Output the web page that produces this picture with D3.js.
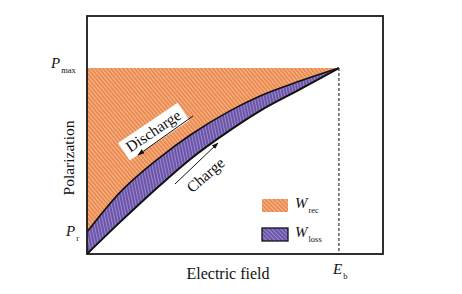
<!DOCTYPE html>
<html>
<head>
<meta charset="utf-8">
<script src="https://cdn.jsdelivr.net/npm/d3@7"></script>
<style>
  body { margin: 0; background: #fff; }
  text { font-family: "Liberation Serif", "DejaVu Serif", serif; fill: #111; }
</style>
</head>
<body>
<div id="chart"></div>
<script>
/* DATA (normalised: E / Eb, P / Pmax) */
const fieldE     = [0, 0.13, 0.29, 0.41, 0.567, 0.687, 0.845, 1];
const chargeP    = [0, 0.17, 0.37, 0.51, 0.665, 0.77, 0.885, 1];
const dischargeP = [0.118, 0.33, 0.52, 0.64, 0.77, 0.85, 0.93, 1];
const pMax = 1, pR = 0.118, eB = 1;
const legendItems = [
  { key: "rec", pattern: "hatchOrangeL", stroke: "none" },
  { key: "loss", pattern: "hatchPurpleL", stroke: "#111" }
];

/* LAYOUT */
const width = 462, height = 294,
  margin = { top: 16, right: 79, bottom: 40, left: 87 };

const svg = d3.select("#chart").append("svg")
  .attr("width", width).attr("height", height);

const xScale = d3.scaleLinear().domain([0, 1.175]).range([margin.left, width - margin.right]);
const yScale = d3.scaleLinear().domain([0, 1.28]).range([height - margin.bottom, margin.top]);

const charge = fieldE.map((e, i) => ({ e, p: chargeP[i] }));
const discharge = fieldE.map((e, i) => ({ e, p: dischargeP[i], c: chargeP[i] }));

// hatch patterns
const defs = svg.append("defs");
function hatch(id, bg, fg, angle, gap) {
  const p = defs.append("pattern").attr("id", id)
    .attr("patternUnits", "userSpaceOnUse")
    .attr("width", gap).attr("height", gap)
    .attr("patternTransform", `rotate(${angle})`);
  p.append("rect").attr("width", gap).attr("height", gap).attr("fill", bg);
  p.append("line").attr("x1", 0.5).attr("x2", 0.5).attr("y1", 0).attr("y2", gap)
    .attr("stroke", fg).attr("stroke-width", 0.8);
}
hatch("hatchOrange", "#ec8a50", "#f6c6a4", -40, 3);
hatch("hatchPurple", "#6b54a8", "#a898d6", -12, 3);
hatch("hatchOrangeL", "#ec8a50", "#f6c6a4", -45, 3);
hatch("hatchPurpleL", "#6b54a8", "#a898d6", -45, 3);

// W_rec area: between Pmax and discharge curve
const recArea = d3.area().curve(d3.curveMonotoneX)
  .x(d => xScale(d.e)).y0(d => yScale(d.p)).y1(yScale(pMax));
svg.append("path").datum(discharge).attr("d", recArea).attr("fill", "url(#hatchOrange)");

// W_loss area: between discharge and charge curves
const lossArea = d3.area().curve(d3.curveMonotoneX)
  .x(d => xScale(d.e)).y0(d => yScale(d.c)).y1(d => yScale(d.p));
svg.append("path").datum(discharge).attr("d", lossArea).attr("fill", "url(#hatchPurple)");

// curves
const line = d3.line().curve(d3.curveMonotoneX).x(d => xScale(d.e)).y(d => yScale(d.p));
svg.append("path").datum(discharge).attr("d", line)
  .attr("fill", "none").attr("stroke", "#111").attr("stroke-width", 1.6);
svg.append("path").datum(charge).attr("d", line)
  .attr("fill", "none").attr("stroke", "#111").attr("stroke-width", 2);

// Eb dashed line
svg.append("line")
  .attr("x1", xScale(eB)).attr("x2", xScale(eB))
  .attr("y1", yScale(pMax)).attr("y2", yScale(0))
  .attr("stroke", "#222").attr("stroke-width", 1.1).attr("stroke-dasharray", "3,2");

// frame
svg.append("rect")
  .attr("x", xScale(0)).attr("y", yScale(1.28))
  .attr("width", xScale(1.175) - xScale(0)).attr("height", yScale(0) - yScale(1.28))
  .attr("fill", "none").attr("stroke", "#1a1a1a").attr("stroke-width", 1.8);

// axis labels
svg.append("text").attr("x", 228).attr("y", 279).attr("text-anchor", "middle")
  .attr("font-size", 16).text("Electric field");
svg.append("text").attr("transform", "translate(74,158) rotate(-90)")
  .attr("text-anchor", "middle").attr("font-size", 15.5).text("Polarization");

function subLabel(x, y, main, sub, anchor) {
  const t = svg.append("text").attr("x", x).attr("y", y).attr("text-anchor", anchor || "start");
  t.append("tspan").attr("font-style", "italic").attr("font-size", 15).text(main);
  t.append("tspan").attr("font-size", 8.5).attr("dx", 1).attr("dy", 5).text(sub);
  return t;
}
subLabel(51, 68, "P", "max");
subLabel(66, 236, "P", "r");
subLabel(333, 274, "E", "b");

// Discharge label with white box and arrow
const dg = svg.append("g").attr("transform", "translate(154,132) rotate(-34)");
dg.append("rect").attr("x", -36).attr("y", -11).attr("width", 72).attr("height", 21).attr("fill", "#fff");
dg.append("text").attr("x", 0).attr("y", 4).attr("text-anchor", "middle").attr("font-size", 15.5).text("Discharge");

defs.append("marker").attr("id", "arrow").attr("viewBox", "0 0 10 10")
  .attr("refX", 9).attr("refY", 5).attr("markerWidth", 7).attr("markerHeight", 7)
  .attr("orient", "auto")
  .append("path").attr("d", "M0,1.5 L10,5 L0,8.5 Z").attr("fill", "#111");

svg.append("line").attr("x1", 193).attr("y1", 116).attr("x2", 138).attr("y2", 155)
  .attr("stroke", "#111").attr("stroke-width", 1).attr("marker-end", "url(#arrow)");

// Charge label and arrow
svg.append("text").attr("transform", "translate(209,179) rotate(-41)")
  .attr("text-anchor", "middle").attr("font-size", 15.5).text("Charge");
svg.append("line").attr("x1", 175).attr("y1", 184).attr("x2", 218).attr("y2", 143)
  .attr("stroke", "#111").attr("stroke-width", 1).attr("marker-end", "url(#arrow)");

// legend
const lg = svg.append("g").selectAll("g").data(legendItems).join("g")
  .attr("transform", (d, i) => `translate(262,${199 + i * 29})`);
lg.append("rect").attr("width", 26).attr("height", 13)
  .attr("fill", d => `url(#${d.pattern})`)
  .attr("stroke", d => d.stroke).attr("stroke-width", 1.3);
lg.each(function (d) {
  const t = d3.select(this).append("text").attr("x", 33).attr("y", 9);
  t.append("tspan").attr("font-style", "italic").attr("font-size", 15).text("W");
  t.append("tspan").attr("font-size", 8.5).attr("dx", 1).attr("dy", 5).text(d.key);
});
</script>
</body>
</html>
